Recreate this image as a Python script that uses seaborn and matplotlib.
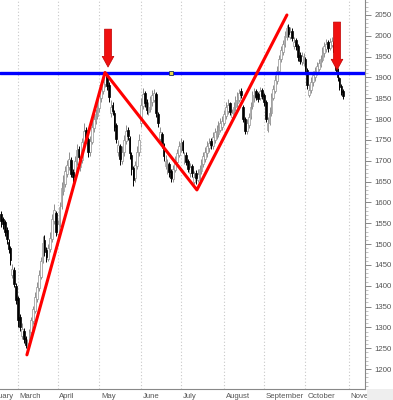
import numpy as np
import pandas as pd
import matplotlib
matplotlib.use("Agg")
import matplotlib.pyplot as plt
import matplotlib.transforms as mtransforms
from matplotlib.patches import Rectangle
import seaborn as sns

# ---------------- data ----------------
start_date = "2014-02-18"
opens = [1572, 1560, 1552, 1534, 1505, 1490, 1425, 1438, 1400, 1370,
         1325, 1280, 1292, 1275, 1248, 1265, 1290, 1315, 1340, 1368,
         1395, 1420, 1462, 1510, 1485, 1465, 1488, 1512, 1555, 1575,
         1525, 1545, 1592, 1628, 1645, 1668, 1685, 1702, 1672, 1662,
         1698, 1728, 1685, 1702, 1742, 1775, 1752, 1720, 1745, 1778,
         1795, 1808, 1826, 1850, 1868, 1885, 1905, 1882, 1815, 1835,
         1815, 1785, 1720, 1735, 1700, 1720, 1748, 1775, 1755, 1715,
         1682, 1658, 1688, 1720, 1790, 1832, 1862, 1842, 1818, 1825,
         1840, 1845, 1860, 1812, 1752, 1765, 1738, 1688, 1678, 1692,
         1675, 1656, 1678, 1698, 1715, 1728, 1745, 1700, 1715, 1700,
         1670, 1688, 1650, 1670, 1655, 1662, 1675, 1692, 1705, 1718,
         1730, 1748, 1735, 1750, 1760, 1765, 1775, 1782, 1790, 1808,
         1820, 1838, 1805, 1812, 1828, 1838, 1845, 1868, 1830, 1800,
         1772, 1785, 1808, 1832, 1850, 1868, 1860, 1850, 1870, 1858,
         1840, 1775, 1790, 1815, 1850, 1868, 1892, 1915, 1945, 1962,
         1978, 1998, 2020, 1998, 2012, 1975, 1990, 1975, 1955, 1938,
         1935, 1945, 1918, 1858, 1870, 1888, 1900, 1912, 1920, 1930,
         1942, 1958, 1968, 1985, 1970, 1978, 1985, 1955, 1918, 1898,
         1880, 1868]
highs = [1580, 1566, 1558, 1540, 1512, 1495, 1452, 1444, 1406, 1375,
         1332, 1310, 1298, 1280, 1272, 1296, 1326, 1352, 1385, 1410,
         1438, 1470, 1520, 1522, 1492, 1500, 1528, 1572, 1595, 1580,
         1558, 1600, 1648, 1665, 1688, 1702, 1722, 1710, 1680, 1712,
         1740, 1735, 1712, 1755, 1790, 1782, 1758, 1760, 1795, 1812,
         1825, 1842, 1866, 1885, 1900, 1912, 1910, 1888, 1845, 1842,
         1822, 1790, 1750, 1740, 1735, 1762, 1785, 1782, 1760, 1720,
         1688, 1700, 1735, 1765, 1850, 1875, 1868, 1848, 1842, 1856,
         1870, 1872, 1865, 1818, 1780, 1770, 1742, 1715, 1705, 1698,
         1680, 1690, 1712, 1728, 1748, 1755, 1750, 1722, 1720, 1705,
         1695, 1692, 1675, 1678, 1680, 1690, 1705, 1722, 1732, 1748,
         1755, 1755, 1768, 1778, 1785, 1795, 1802, 1808, 1822, 1840,
         1848, 1842, 1825, 1840, 1856, 1865, 1872, 1875, 1835, 1805,
         1800, 1815, 1840, 1868, 1875, 1872, 1865, 1878, 1875, 1862,
         1845, 1805, 1830, 1862, 1882, 1905, 1928, 1955, 1975, 1990,
         2012, 2025, 2028, 2022, 2018, 1998, 1995, 1980, 1960, 1962,
         1958, 1950, 1922, 1885, 1900, 1915, 1925, 1938, 1945, 1955,
         1972, 1985, 1992, 1990, 1995, 1998, 1990, 1958, 1922, 1902,
         1885, 1872]
lows = [1540, 1536, 1520, 1500, 1478, 1450, 1418, 1398, 1355, 1300,
        1292, 1272, 1262, 1250, 1242, 1258, 1282, 1308, 1335, 1360,
        1388, 1415, 1455, 1472, 1458, 1460, 1480, 1505, 1548, 1520,
        1515, 1540, 1585, 1618, 1638, 1660, 1678, 1660, 1650, 1655,
        1690, 1702, 1675, 1695, 1735, 1742, 1710, 1712, 1740, 1770,
        1788, 1800, 1818, 1842, 1860, 1876, 1870, 1842, 1805, 1810,
        1772, 1742, 1712, 1690, 1692, 1712, 1740, 1750, 1705, 1665,
        1640, 1650, 1680, 1712, 1782, 1825, 1830, 1812, 1810, 1818,
        1832, 1840, 1805, 1780, 1745, 1730, 1700, 1680, 1668, 1660,
        1648, 1650, 1672, 1690, 1708, 1720, 1718, 1692, 1690, 1672,
        1662, 1660, 1645, 1645, 1648, 1655, 1668, 1686, 1698, 1710,
        1722, 1728, 1728, 1742, 1752, 1758, 1768, 1775, 1785, 1800,
        1812, 1810, 1798, 1805, 1820, 1830, 1840, 1850, 1792, 1765,
        1765, 1778, 1800, 1825, 1842, 1845, 1840, 1845, 1848, 1832,
        1792, 1768, 1785, 1808, 1845, 1862, 1885, 1908, 1938, 1955,
        1972, 1990, 1998, 1992, 1988, 1968, 1965, 1940, 1932, 1930,
        1928, 1912, 1872, 1852, 1862, 1880, 1892, 1905, 1915, 1925,
        1938, 1950, 1962, 1962, 1965, 1972, 1952, 1910, 1892, 1870,
        1858, 1848]
closes = [1555, 1548, 1530, 1512, 1488, 1462, 1440, 1405, 1365, 1318,
          1300, 1295, 1272, 1258, 1262, 1288, 1318, 1345, 1372, 1398,
          1425, 1460, 1502, 1480, 1468, 1490, 1515, 1560, 1582, 1530,
          1548, 1590, 1635, 1650, 1675, 1690, 1705, 1668, 1660, 1700,
          1725, 1710, 1700, 1745, 1772, 1750, 1722, 1748, 1782, 1800,
          1812, 1830, 1855, 1872, 1890, 1905, 1880, 1852, 1830, 1820,
          1782, 1752, 1738, 1705, 1722, 1750, 1772, 1760, 1718, 1680,
          1655, 1690, 1722, 1750, 1835, 1860, 1838, 1822, 1830, 1845,
          1858, 1862, 1815, 1790, 1768, 1740, 1712, 1700, 1695, 1672,
          1658, 1680, 1700, 1718, 1735, 1742, 1725, 1712, 1698, 1680,
          1685, 1670, 1662, 1658, 1668, 1680, 1695, 1712, 1722, 1735,
          1742, 1738, 1758, 1768, 1772, 1782, 1790, 1795, 1812, 1828,
          1835, 1818, 1815, 1830, 1845, 1852, 1862, 1858, 1800, 1772,
          1790, 1805, 1830, 1858, 1865, 1852, 1848, 1868, 1855, 1840,
          1800, 1790, 1815, 1852, 1872, 1895, 1915, 1945, 1965, 1980,
          2000, 2018, 2005, 2010, 1995, 1985, 1975, 1950, 1940, 1952,
          1948, 1920, 1882, 1870, 1890, 1905, 1915, 1928, 1935, 1945,
          1962, 1975, 1980, 1970, 1985, 1988, 1960, 1918, 1900, 1878,
          1865, 1855]

# W pattern (trading-day index, price)
w_day = [13.7, 55.0, 103.6, 151.2]
w_price = [1234, 1912, 1630, 2050]
neckline = 1911
marker_day = 90

# arrows (trading-day index, top price, tip price)
arrow_day = [56.6, 177.7]
arrow_top = [2016, 2033]
arrow_tip = [1925, 1918]

month_names = ["February", "March", "April", "May", "June", "July",
               "August", "September", "October", "November"]
y_ticks = list(range(1200, 2051, 50))

# ---------------- build frame ----------------
n = len(closes)
dates = pd.bdate_range(start_date, periods=n)
df = pd.DataFrame({"date": dates, "day": np.arange(n), "open": opens,
                   "high": highs, "low": lows, "close": closes})

cal = pd.bdate_range("2014-02-03", "2014-11-28")
offset = int(np.where(cal == pd.Timestamp(start_date))[0][0])
cal_idx = np.arange(len(cal)) - offset
first_of_month = pd.Series(cal_idx, index=cal).groupby(cal.to_period("M")).min()
month_pos = list(first_of_month.values)
mondays = [i for d, i in zip(cal, cal_idx) if d.weekday() == 0]

# ---------------- plot ----------------
sns.set_style("white")
plt.rcParams["font.family"] = ["Liberation Sans", "DejaVu Sans"]

fig = plt.figure(figsize=(3.93, 4.0), dpi=100)
ax = fig.add_axes([0.0, 11 / 400, 365 / 393, 389 / 400])

up = df["close"] >= df["open"]
grey = "#8f8f8f"
# wicks
ax.vlines(df.loc[up, "day"], df.loc[up, "low"], df.loc[up, "high"],
          color=grey, lw=0.7, zorder=2)
ax.vlines(df.loc[~up, "day"], df.loc[~up, "low"], df.loc[~up, "high"],
          color="black", lw=0.7, zorder=2)
# bodies
body_lo = np.minimum(df["open"], df["close"])
body_h = np.abs(df["close"] - df["open"])
ax.bar(df.loc[up, "day"], body_h[up], bottom=body_lo[up], width=0.9,
       facecolor="white", edgecolor=grey, linewidth=0.5, zorder=3)
ax.bar(df.loc[~up, "day"], body_h[~up], bottom=body_lo[~up], width=0.9,
       facecolor="black", edgecolor="black", linewidth=0.5, zorder=3)

# neckline and W
ax.axhline(neckline, color="#0000ff", lw=2.4, zorder=4)
ax.plot([marker_day], [neckline], marker="s", ms=3.2, mfc="#e8d84a",
        mec="#334466", mew=0.7, zorder=5)
wdf = pd.DataFrame({"day": w_day, "price": w_price})
sns.lineplot(data=wdf, x="day", y="price", color="#ff0000", lw=2.2,
             sort=False, estimator=None, ax=ax, zorder=5)

for xd, yt, yb in zip(arrow_day, arrow_top, arrow_tip):
    ax.annotate("", xy=(xd, yb), xytext=(xd, yt),
                arrowprops=dict(arrowstyle="simple,head_length=0.55,head_width=0.6,tail_width=0.36",
                                mutation_scale=14, facecolor="#f01010",
                                edgecolor="#c00000", lw=0.5,
                                shrinkA=0, shrinkB=0), zorder=6)

# month gridlines and labels
for p in month_pos:
    ax.axvline(p, color="#c8c8c8", lw=0.8, ls=(0, (1, 2)), zorder=1)
trans = mtransforms.blended_transform_factory(ax.transData, ax.transAxes)
for p, name in zip(month_pos, month_names):
    ax.text(p + 0.9, -0.009, name, transform=trans, ha="left", va="top",
            fontsize=5.6, color="#555555", clip_on=False)

ax.set_xlabel("")
ax.set_ylabel("")

ax.set_xticks(month_pos)
ax.set_xticklabels([])
ax.set_xticks(mondays, minor=True)
ax.tick_params(axis="x", which="major", direction="out", length=4,
               color="#888888", width=0.7)
ax.tick_params(axis="x", which="minor", direction="out", length=2,
               color="#888888", width=0.6)

ax.yaxis.tick_right()
ax.set_yticks(y_ticks)
ax.set_yticklabels([str(v) for v in y_ticks])
ax.set_yticks(list(range(1160, 2081, 10)), minor=True)
ax.tick_params(axis="y", which="major", direction="out", length=4,
               color="#888888", width=0.7, labelsize=5.6,
               labelcolor="#555555", pad=3)
ax.tick_params(axis="y", which="minor", direction="out", length=2,
               color="#aaaaaa", width=0.5)

ax.set_xlim(-0.53, 192.5)
ax.set_ylim(1152, 2086)

for s in ["top", "left"]:
    ax.spines[s].set_visible(False)
for s in ["right", "bottom"]:
    ax.spines[s].set_color("#888888")
    ax.spines[s].set_linewidth(0.8)

# grey panel corner
fig.patches.append(Rectangle((367 / 393, 0), 1, 11 / 400, transform=fig.transFigure,
                             facecolor="#eeeeee", edgecolor="none", zorder=10))

fig.savefig("out.png", dpi=100)
